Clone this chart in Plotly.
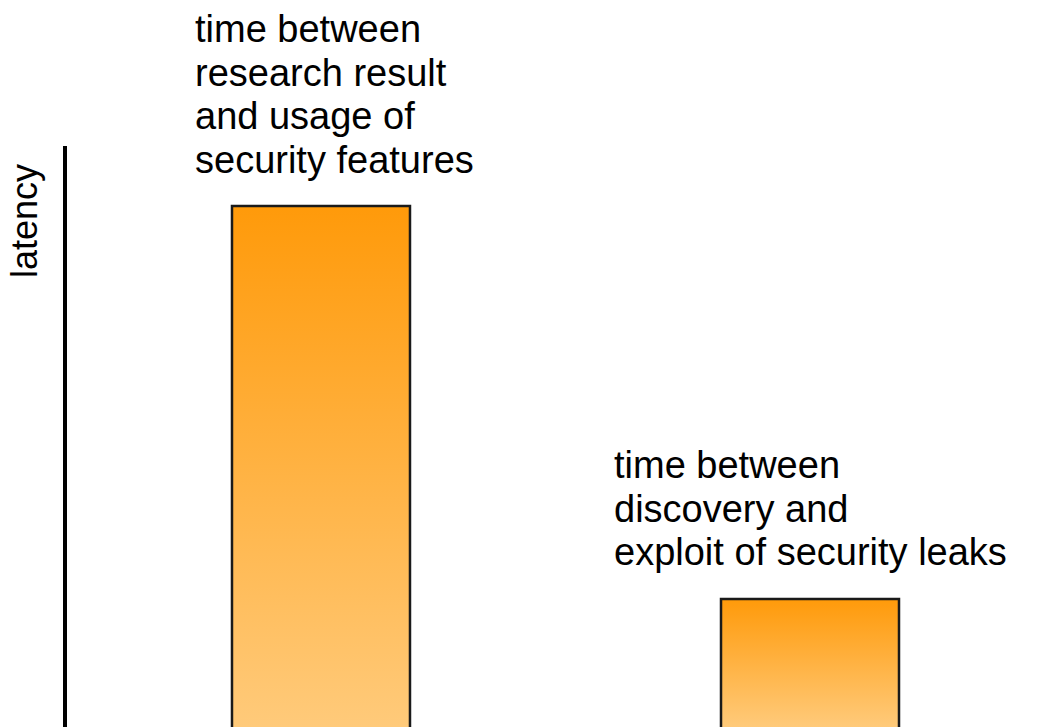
import plotly.graph_objects as go

# ---- data ----
categories = ["research result to usage of security features",
              "discovery to exploit of security leaks"]
latency = [10, 3]
label_block1 = ["time between", "research result", "and usage of", "security features"]
label_block2 = ["time between", "discovery and", "exploit of security leaks"]
axis_title = "latency"

# ---- layout constants ----
W, H = 1057, 727
ML, MT = 67, 146
PW, PH = W - ML, H - MT
X_RANGE = [-0.5194, 1.5051]
Y_RANGE = [0.7197, 11.069]
BAR_W = 0.364
FONT = "Liberation Sans, Arial, sans-serif"
FS = 38


def px(xp):
    return (xp - ML) / PW


def py(yp):
    return (H - yp) / PH


fig = go.Figure()
for i, (cat, v) in enumerate(zip(categories, latency)):
    x0, x1 = i - BAR_W / 2, i + BAR_W / 2
    fig.add_trace(go.Scatter(
        x=[x0, x0, x1, x1, x0], y=[0, v, v, 0, 0],
        mode="lines", fill="toself", name=cat,
        line=dict(color="#1a1a1a", width=2.5),
        fillgradient=dict(type="vertical",
                          colorscale=[[0, "#FFCA7A"], [1, "#FF9A0A"]],
                          start=Y_RANGE[0], stop=v),
        hoverinfo="skip", showlegend=False))

annotations = []
for k, line in enumerate(label_block1):
    annotations.append(dict(x=px(193), y=py(29 + k * 43.7), xref="paper", yref="paper",
                            text=line, showarrow=False, xanchor="left", yanchor="middle",
                            font=dict(family=FONT, size=FS, color="black")))
for k, line in enumerate(label_block2):
    annotations.append(dict(x=px(612), y=py(465 + k * 43.7), xref="paper", yref="paper",
                            text=line, showarrow=False, xanchor="left", yanchor="middle",
                            font=dict(family=FONT, size=FS, color="black")))
annotations.append(dict(x=px(24), y=py(221), xref="paper", yref="paper", text=axis_title,
                        showarrow=False, textangle=-90, xanchor="center", yanchor="middle",
                        font=dict(family=FONT, size=36, color="black")))

fig.update_layout(
    width=W, height=H,
    margin=dict(l=ML, r=0, t=MT, b=0, pad=0),
    paper_bgcolor="white", plot_bgcolor="white",
    xaxis=dict(range=X_RANGE, visible=False, fixedrange=True),
    yaxis=dict(range=Y_RANGE, showline=True, linecolor="black", linewidth=4,
               showticklabels=False, showgrid=False, zeroline=False, ticks="",
               fixedrange=True),
    annotations=annotations,
)

fig.write_html("out.html")
